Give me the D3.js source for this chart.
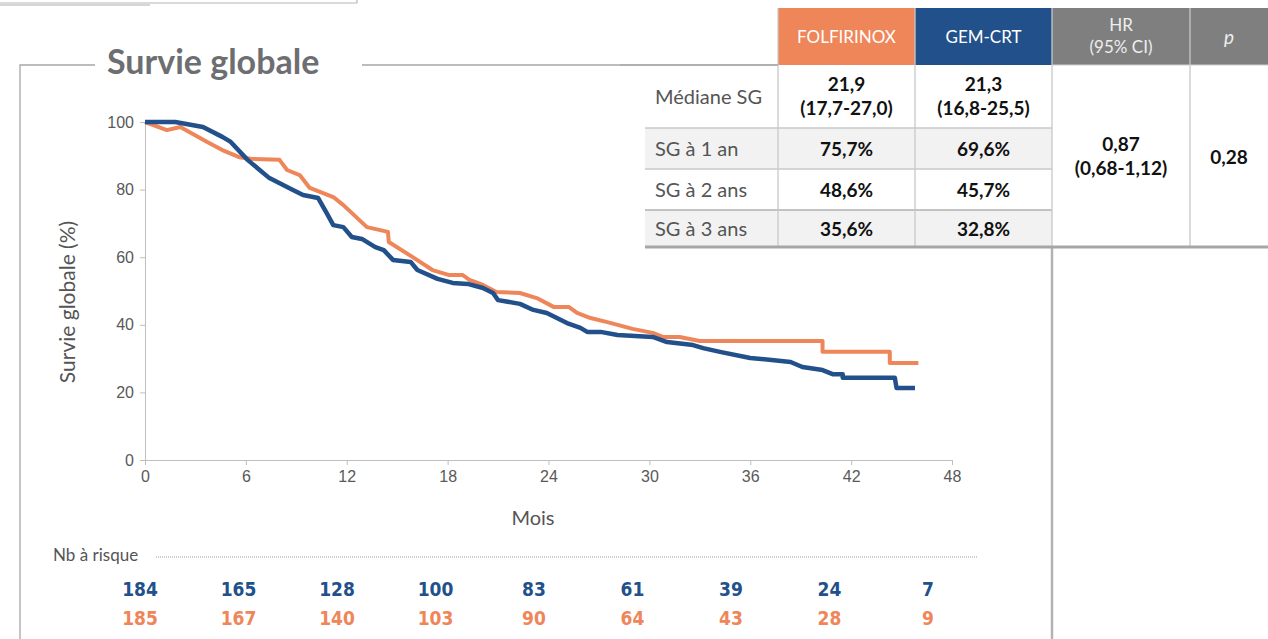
<!DOCTYPE html>
<html lang="fr">
<head>
  <meta charset="UTF-8">
  <title>Survie globale</title>
  <script src="https://d3js.org/d3.v7.min.js"></script>
  <style>
    body { margin: 0; background: #fff; font-family: "Lato", "Open Sans", sans-serif; }
    .axis path, .axis line { stroke: #bfbfbf; }
  </style>
</head>
<body>
<div id="chart"></div>
<script>
  // courbes de survie (mois, %)
  const timeFolfi = [0, 1.3, 2.1, 3.7, 4.6, 5.6, 6.3, 8.0, 8.45, 9.2, 9.8, 11.2, 11.8, 13.2, 14.45, 14.5, 15.9, 17.1, 18.1, 18.9, 19.3, 20.1, 20.9, 22.3, 23.3, 24.3, 25.2, 25.7, 26.5, 27.5, 29.0, 30.2, 30.8, 31.8, 33.0, 40.3, 40.3, 44.3, 44.3, 46.0];
  const survFolfi = [100, 97.6, 98.5, 94.1, 91.7, 89.6, 89.1, 88.8, 85.8, 84.3, 80.5, 77.8, 75.4, 68.9, 67.5, 64.5, 60.1, 56.2, 54.7, 54.7, 53.3, 51.8, 49.7, 49.4, 47.9, 45.3, 45.3, 43.5, 42.0, 40.8, 38.8, 37.6, 36.4, 36.4, 35.2, 35.2, 32.0, 32.0, 28.7, 28.7];
  const timeGem = [0, 1.8, 3.45, 4.6, 5.1, 6.1, 7.4, 8.8, 9.4, 10.3, 10.8, 11.2, 11.8, 12.3, 12.9, 13.7, 14.2, 14.75, 15.8, 16.2, 17.4, 18.3, 19.2, 20.1, 20.7, 21.0, 22.3, 23.1, 23.9, 25.1, 25.9, 26.3, 27.1, 28.1, 30.2, 31.05, 32.6, 33.2, 34.2, 36.0, 38.4, 39.1, 40.3, 40.9, 41.5, 41.5, 44.6, 44.7, 45.8];
  const survGem = [100, 100, 98.5, 95.6, 94.1, 88.8, 83.4, 79.9, 78.4, 77.5, 73.1, 69.5, 68.9, 66.0, 65.4, 63.0, 62.1, 59.2, 58.6, 56.2, 53.6, 52.4, 52.1, 50.9, 49.4, 47.3, 46.2, 44.4, 43.5, 40.5, 39.1, 37.9, 37.9, 37.0, 36.4, 34.9, 34.0, 33.1, 32.0, 30.2, 29.0, 27.5, 26.6, 25.4, 25.4, 24.3, 24.3, 21.3, 21.3];

  const xTicks = [0, 6, 12, 18, 24, 30, 36, 42, 48];
  const yTicks = [0, 20, 40, 60, 80, 100];

  // nombre de patients à risque
  const riskTimes = [0, 6, 12, 18, 24, 30, 36, 42, 48];
  const riskGem = [184, 165, 128, 100, 83, 61, 39, 24, 7];
  const riskFolfi = [185, 167, 140, 103, 90, 64, 43, 28, 9];

  // tableau
  const rowLabels = ["Médiane SG", "SG à 1 an", "SG à 2 ans", "SG à 3 ans"];
  const folfiValues = [["21,9", "(17,7-27,0)"], ["75,7%"], ["48,6%"], ["35,6%"]];
  const gemValues = [["21,3", "(16,8-25,5)"], ["69,6%"], ["45,7%"], ["32,8%"]];
  const hrValue = ["0,87", "(0,68-1,12)"];
  const pValue = "0,28";

  const orange = "#ef8659";
  const blue = "#22508a";
  const frameGray = "#a6a6a6";
  const textGray = "#555555";

  const W = 1268, H = 639;
  const svg = d3.select("#chart").append("svg")
    .attr("width", W).attr("height", H);

  // cadre et restes du bord supérieur
  svg.append("line").attr("x1", 0).attr("x2", 357).attr("y1", 3).attr("y2", 3)
    .attr("stroke", "#b5b5b5").attr("stroke-width", 1.2);
  svg.append("line").attr("x1", 357).attr("x2", 357).attr("y1", 0).attr("y2", 3)
    .attr("stroke", "#b5b5b5").attr("stroke-width", 1.2);
  svg.append("line").attr("x1", 0).attr("x2", 150).attr("y1", 5).attr("y2", 5)
    .attr("stroke", "#c8c8c8").attr("stroke-width", 1.5);

  const frame = svg.append("g").attr("stroke", frameGray).attr("stroke-width", 1.3).attr("fill", "none");
  frame.append("path").attr("d", "M20,639 L20,65 L95,65");
  frame.append("path").attr("d", "M362,65 L645,65");
  frame.append("line").attr("x1", 1052).attr("x2", 1052).attr("y1", 247).attr("y2", 639)
    .attr("stroke-width", 2.5).attr("stroke", "#b3b3b3");

  svg.append("text")
    .attr("x", 107).attr("y", 74)
    .attr("font-family", "Lato, sans-serif")
    .attr("font-weight", 700)
    .attr("font-size", 34)
    .attr("fill", "#6d6e71")
    .text("Survie globale");

  // échelles
  const x = d3.scaleLinear().domain([0, 48]).range([145, 952]);
  const y = d3.scaleLinear().domain([0, 100]).range([460, 122]);

  const styleTicks = g => g.selectAll(".tick text")
    .attr("font-family", "'Liberation Sans', Arial, sans-serif")
    .attr("font-size", 16)
    .attr("fill", "#595959");

  svg.append("g")
    .attr("class", "axis")
    .attr("transform", "translate(0,460)")
    .call(d3.axisBottom(x).tickValues(xTicks).tickSize(5).tickSizeOuter(0).tickPadding(6))
    .call(styleTicks);

  svg.append("g")
    .attr("class", "axis")
    .attr("transform", "translate(145,0)")
    .call(d3.axisLeft(y).tickValues(yTicks).tickSize(5).tickSizeOuter(0).tickPadding(6))
    .call(styleTicks);

  svg.append("text")
    .attr("x", 533).attr("y", 525)
    .attr("text-anchor", "middle")
    .attr("font-size", 20)
    .attr("fill", textGray)
    .text("Mois");

  svg.append("text")
    .attr("transform", "translate(75,302) rotate(-90)")
    .attr("text-anchor", "middle")
    .attr("font-size", 21)
    .attr("fill", textGray)
    .text("Survie globale (%)");

  const line = d3.line().x(d => x(d[0])).y(d => y(d[1]));

  svg.append("path")
    .datum(d3.zip(timeFolfi, survFolfi))
    .attr("fill", "none").attr("stroke", orange).attr("stroke-width", 4)
    .attr("stroke-linejoin", "round")
    .attr("d", line);

  svg.append("path")
    .datum(d3.zip(timeGem, survGem))
    .attr("fill", "none").attr("stroke", blue).attr("stroke-width", 4.5)
    .attr("stroke-linejoin", "round")
    .attr("d", line);

  // nombre à risque
  svg.append("text")
    .attr("x", 53).attr("y", 561)
    .attr("font-size", 17)
    .attr("fill", textGray)
    .text("Nb à risque");

  svg.append("line")
    .attr("x1", 156).attr("x2", 978).attr("y1", 557).attr("y2", 557)
    .attr("stroke", "#9a9a9a").attr("stroke-width", 1)
    .attr("stroke-dasharray", "1,1");

  const xr = d3.scaleLinear().domain([0, 48]).range([140, 928]);
  const riskFont = "'DejaVu Sans Condensed', 'Liberation Sans Narrow', sans-serif";

  svg.selectAll(".risk-gem")
    .data(riskTimes)
    .enter().append("text")
    .attr("x", d => xr(d)).attr("y", 596)
    .attr("text-anchor", "middle")
    .attr("font-family", riskFont).attr("font-weight", 700).attr("font-size", 19)
    .attr("fill", blue)
    .text((d, i) => riskGem[i]);

  svg.selectAll(".risk-folfi")
    .data(riskTimes)
    .enter().append("text")
    .attr("x", d => xr(d)).attr("y", 625)
    .attr("text-anchor", "middle")
    .attr("font-family", riskFont).attr("font-weight", 700).attr("font-size", 19)
    .attr("fill", orange)
    .text((d, i) => riskFolfi[i]);

  // tableau des résultats
  const colX = [645, 778, 915, 1052, 1190, 1268];
  const rowY = [65, 128, 169, 210, 248];
  const table = svg.append("g");

  // fonds des lignes
  rowLabels.forEach((lab, i) => {
    table.append("rect")
      .attr("x", colX[0]).attr("y", rowY[i])
      .attr("width", colX[3] - colX[0]).attr("height", rowY[i + 1] - rowY[i])
      .attr("fill", i % 2 === 1 ? "#f2f2f2" : "#fff");
  });

  // en-têtes
  const headFill = [orange, blue, "#7f7f7f", "#7f7f7f"];
  headFill.forEach((c, i) => {
    table.append("rect")
      .attr("x", colX[i + 1]).attr("y", 8)
      .attr("width", colX[i + 2] - colX[i + 1]).attr("height", 57)
      .attr("fill", c);
  });
  const headText = (xc, yc, t) => table.append("text")
    .attr("x", xc).attr("y", yc).attr("text-anchor", "middle")
    .attr("font-size", 17).attr("fill", "#fff").text(t);
  headText((colX[1] + colX[2]) / 2, 43, "FOLFIRINOX");
  headText((colX[2] + colX[3]) / 2, 43, "GEM-CRT");
  headText((colX[3] + colX[4]) / 2, 31, "HR").attr("fill", "#eee");
  headText((colX[3] + colX[4]) / 2, 53, "(95% CI)").attr("fill", "#eee");
  headText((colX[4] + colX[5]) / 2, 44, "p").attr("font-style", "italic").attr("fill", "#eee").attr("font-size", 19);

  // traits du tableau
  const grid = table.append("g").attr("stroke", "#c8c8c8").attr("stroke-width", 1.3);
  [1, 2].forEach(i => grid.append("line")
    .attr("x1", colX[0]).attr("x2", colX[3]).attr("y1", rowY[i]).attr("y2", rowY[i]));
  grid.append("line").attr("x1", colX[0]).attr("x2", colX[3]).attr("y1", rowY[3]).attr("y2", rowY[3])
    .attr("stroke", "#b0b0b0");
  [1, 2, 3, 4].forEach(i => grid.append("line")
    .attr("x1", colX[i]).attr("x2", colX[i]).attr("y1", 8).attr("y2", rowY[4]));
  table.append("line").attr("x1", 620).attr("x2", colX[1]).attr("y1", 65).attr("y2", 65)
    .attr("stroke", "#b0b0b0").attr("stroke-width", 2);
  table.append("line").attr("x1", colX[3]).attr("x2", colX[5]).attr("y1", 65).attr("y2", 65)
    .attr("stroke", "#d0d0d0").attr("stroke-width", 1);
  table.append("line").attr("x1", colX[0]).attr("x2", colX[5]).attr("y1", 247).attr("y2", 247)
    .attr("stroke", "#a6a6a6").attr("stroke-width", 3);

  // contenus
  rowLabels.forEach((lab, i) => {
    const mid = (rowY[i] + rowY[i + 1]) / 2;
    table.append("text")
      .attr("x", 655).attr("y", mid + 7)
      .attr("font-size", 20).attr("fill", textGray)
      .text(lab);
    [folfiValues[i], gemValues[i]].forEach((vals, j) => {
      const cx = (colX[j + 1] + colX[j + 2]) / 2;
      vals.forEach((v, k) => {
        table.append("text")
          .attr("x", cx)
          .attr("y", vals.length === 1 ? mid + 7 : mid - 6 + k * 24)
          .attr("text-anchor", "middle")
          .attr("font-size", 19).attr("font-weight", 700).attr("fill", "#111")
          .text(v);
      });
    });
  });

  hrValue.forEach((v, k) => {
    table.append("text")
      .attr("x", (colX[3] + colX[4]) / 2).attr("y", 151 + k * 24)
      .attr("text-anchor", "middle")
      .attr("font-size", 19).attr("font-weight", 700).attr("fill", "#111")
      .text(v);
  });
  table.append("text")
    .attr("x", (colX[4] + colX[5]) / 2).attr("y", 164)
    .attr("text-anchor", "middle")
    .attr("font-size", 19).attr("font-weight", 700).attr("fill", "#111")
    .text(pValue);
</script>
</body>
</html>
